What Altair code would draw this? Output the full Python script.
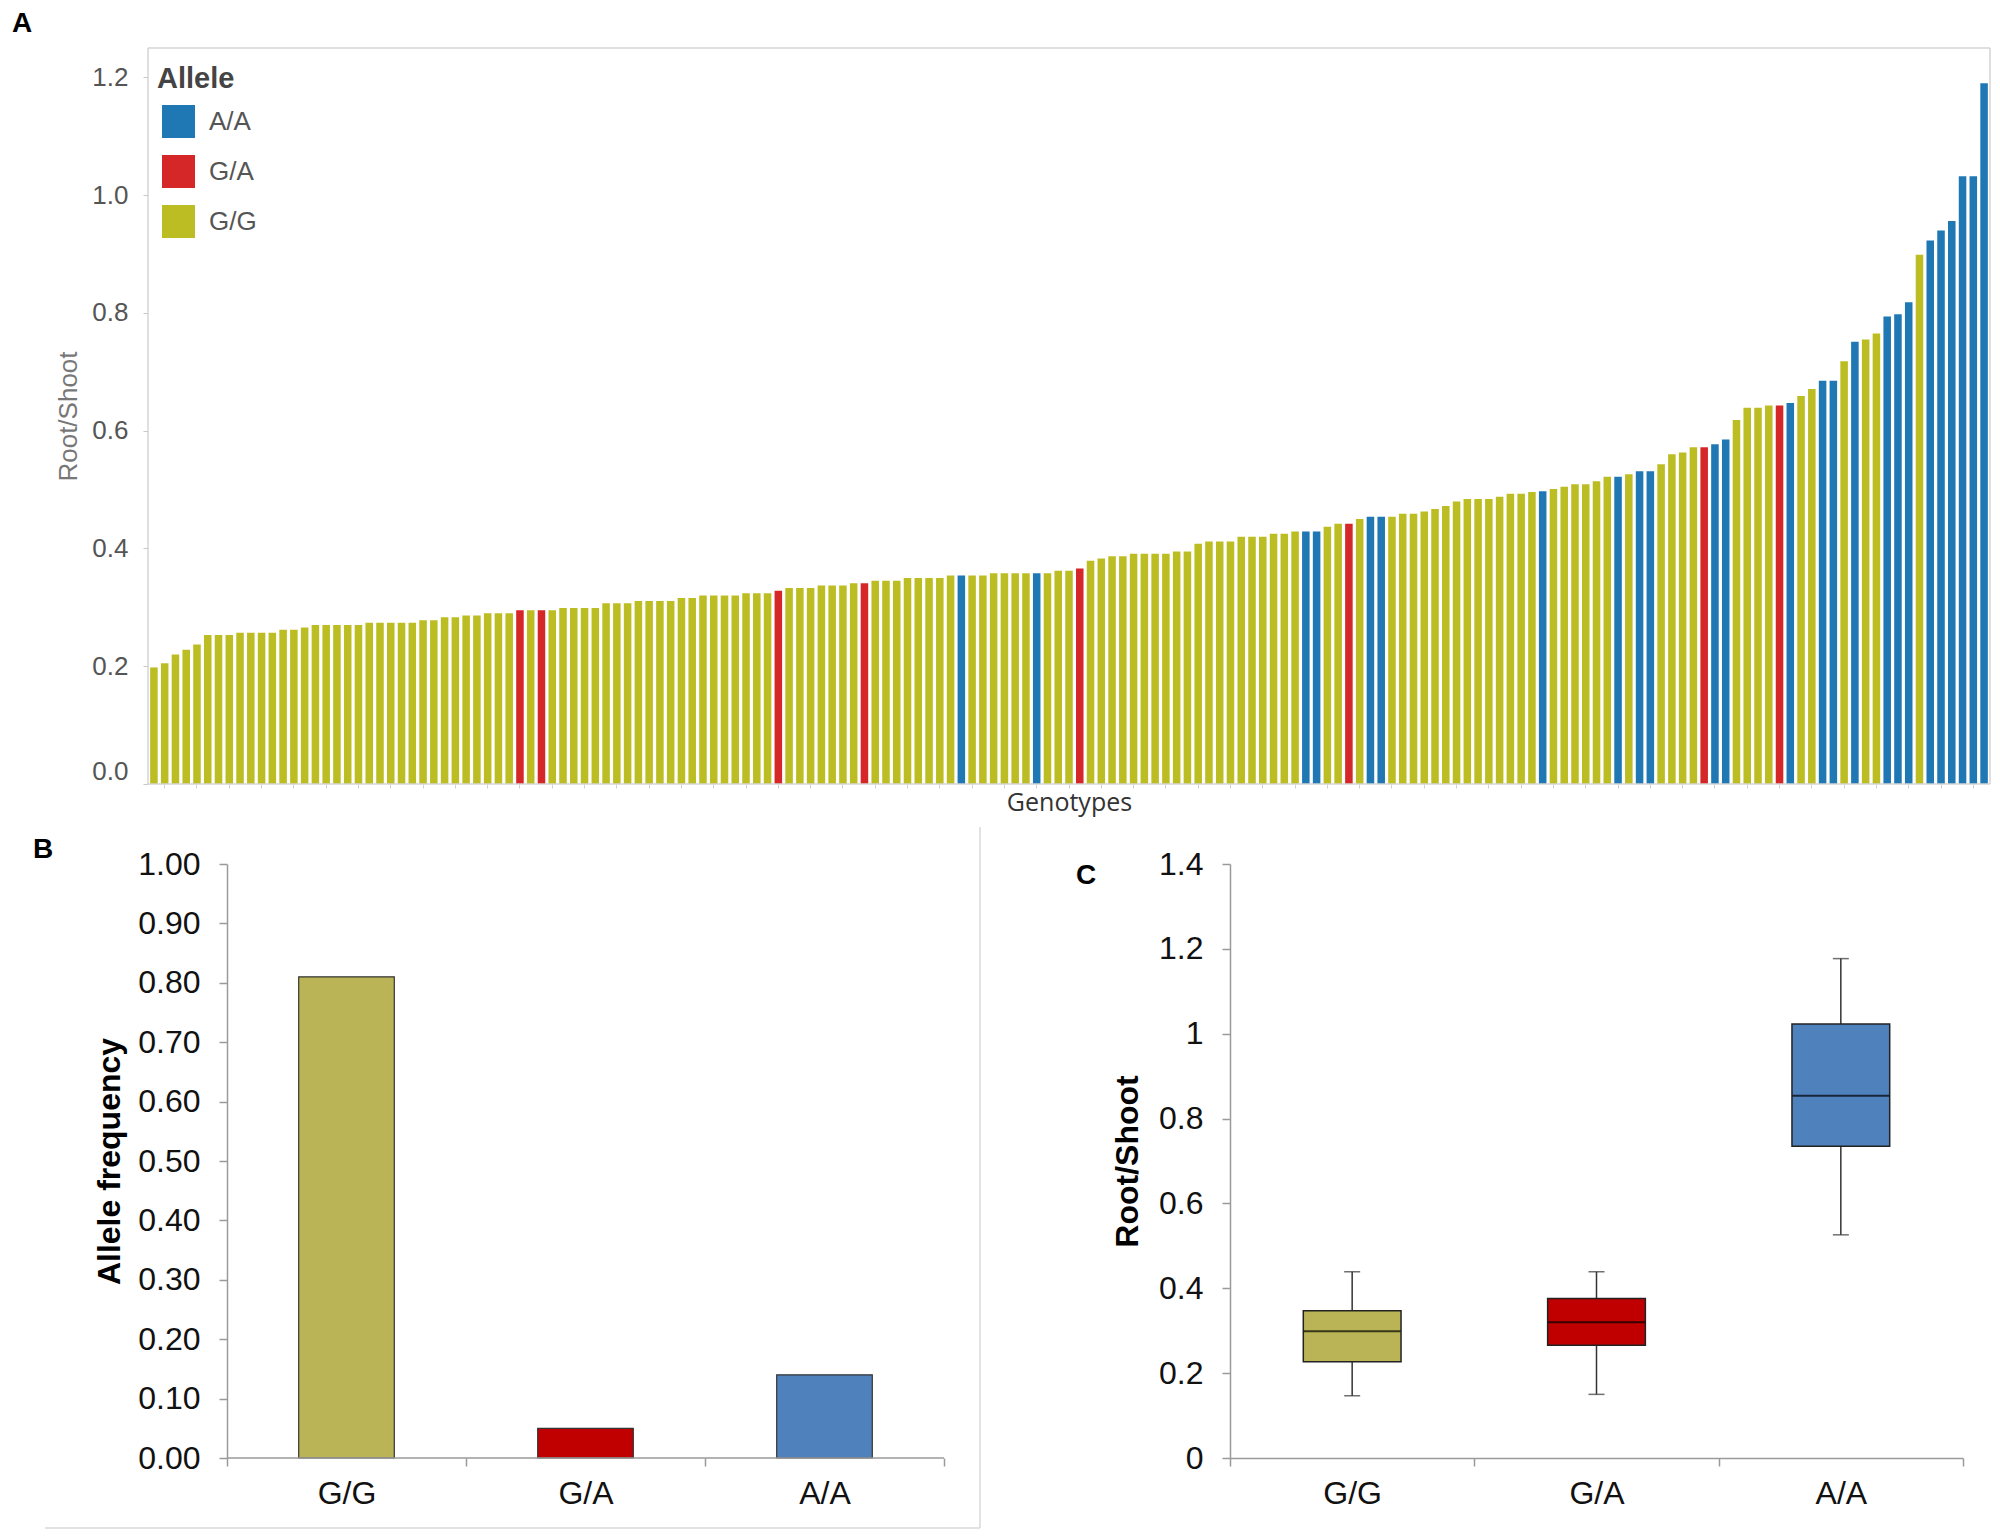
import altair as alt
import pandas as pd

FONT = "Liberation Sans"

# ---------------- Panel A data ----------------
root_shoot = [
    0.198, 0.205, 0.220, 0.228, 0.237, 0.253, 0.253, 0.253, 0.257, 0.257,
    0.257, 0.257, 0.262, 0.262, 0.266, 0.270, 0.270, 0.270, 0.270, 0.270,
    0.274, 0.274, 0.274, 0.274, 0.274, 0.278, 0.278, 0.283, 0.283, 0.286,
    0.286, 0.290, 0.290, 0.290, 0.295, 0.295, 0.295, 0.295, 0.299, 0.299,
    0.299, 0.299, 0.307, 0.307, 0.307, 0.311, 0.311, 0.311, 0.311, 0.316,
    0.316, 0.320, 0.320, 0.320, 0.320, 0.324, 0.324, 0.324, 0.328, 0.333,
    0.333, 0.333, 0.337, 0.337, 0.337, 0.341, 0.341, 0.345, 0.345, 0.345,
    0.350, 0.350, 0.350, 0.350, 0.354, 0.354, 0.354, 0.354, 0.358, 0.358,
    0.358, 0.358, 0.358, 0.358, 0.362, 0.362, 0.366, 0.379, 0.383, 0.387,
    0.387, 0.391, 0.391, 0.391, 0.391, 0.395, 0.395, 0.408, 0.412, 0.412,
    0.412, 0.420, 0.420, 0.420, 0.425, 0.425, 0.429, 0.429, 0.429, 0.437,
    0.442, 0.442, 0.450, 0.454, 0.454, 0.454, 0.459, 0.459, 0.463, 0.467,
    0.472, 0.480, 0.484, 0.484, 0.484, 0.488, 0.493, 0.493, 0.496, 0.497,
    0.501, 0.505, 0.509, 0.509, 0.514, 0.522, 0.522, 0.526, 0.531, 0.531,
    0.543, 0.560, 0.563, 0.572, 0.572, 0.577, 0.585, 0.618, 0.639, 0.639,
    0.643, 0.643, 0.647, 0.659, 0.671, 0.685, 0.685, 0.718, 0.751, 0.755,
    0.765, 0.794, 0.798, 0.818, 0.899, 0.923, 0.940, 0.956, 1.032, 1.032,
    1.190,
]
# 1-based positions of the bars that are G/A (red) and A/A (blue); the rest are G/G
ga_bars = [35, 37, 59, 67, 87, 112, 145, 152]
aa_bars = [76, 83, 108, 109, 114, 115, 130, 137, 139, 140, 146, 147, 153,
           156, 157, 159, 162, 163, 164, 166, 167, 168, 169, 170, 171]
legend_order = ["A/A", "G/A", "G/G"]
tableau_colors = ["#1f77b4", "#d62728", "#bcbd22"]
a_ticks = [0, 0.2, 0.4, 0.6, 0.8, 1.0, 1.2]

# ---------------- Panel B data ----------------
alleles = ["G/G", "G/A", "A/A"]
freq = [0.81, 0.05, 0.14]
excel_colors = ["#BAB456", "#C00000", "#4F81BD"]
b_ticks = [0, 0.1, 0.2, 0.3, 0.4, 0.5, 0.6, 0.7, 0.8, 0.9, 1.0]

# ---------------- Panel C data ----------------
whisker_lo = [0.147, 0.150, 0.526]
q1 = [0.227, 0.266, 0.735]
median = [0.299, 0.320, 0.854]
q3 = [0.347, 0.376, 1.023]
whisker_hi = [0.439, 0.439, 1.177]
c_ticks = [0, 0.2, 0.4, 0.6, 0.8, 1.0, 1.2, 1.4]

# ---------------- Build tables ----------------
n = len(root_shoot)
ids = [f"g{i + 1:03d}" for i in range(n)]
allele_of = []
for i in range(n):
    k = i + 1
    allele_of.append("A/A" if k in aa_bars else ("G/A" if k in ga_bars else "G/G"))
dfA = pd.DataFrame({"genotype": ids, "value": root_shoot, "allele": allele_of})
dfB = pd.DataFrame({"allele": alleles, "freq": freq, "fill": excel_colors})
dfC = pd.DataFrame({"allele": alleles, "lo": whisker_lo, "q1": q1, "median": median,
                    "q3": q3, "hi": whisker_hi, "fill": excel_colors})
one = pd.DataFrame({"t": ["x"]})


def letter(txt, x, y):
    return alt.Chart(pd.DataFrame({"t": [txt]})).mark_text(
        align="left", baseline="top", font=FONT, fontSize=28, fontWeight="bold", color="#000"
    ).encode(x=alt.value(x), y=alt.value(y), text="t:N")


def vrule(x, y1, y2, color, width=1.5, opacity=1):
    return alt.Chart(one).mark_rule(color=color, strokeWidth=width, opacity=opacity).encode(
        x=alt.value(x), y=alt.value(y1), y2=alt.value(y2))


def hrule(x1, x2, y, color, width=1.5):
    return alt.Chart(one).mark_rule(color=color, strokeWidth=width).encode(
        x=alt.value(x1), x2=alt.value(x2), y=alt.value(y))


# ---------------- Panel A ----------------
WA = 1842
HA = 736
barsA = alt.Chart(dfA).mark_bar().encode(
    x=alt.X("genotype:N", sort=None,
            scale=alt.Scale(paddingInner=0.3, paddingOuter=0.2),
            axis=alt.Axis(title="Genotypes", labels=False, values=ids[1::3],
                          tickSize=4, tickColor="#d0d0d0", domain=False,
                          titleFont="Open Sans", titleFontSize=25, titleColor="#333",
                          titleFontWeight="normal", titlePadding=2)),
    y=alt.Y("value:Q", scale=alt.Scale(domain=[0, 1.25], nice=False),
            axis=alt.Axis(title="Root/Shoot", values=a_ticks, format=".1f", grid=False,
                          domain=False, tickColor="#c8c8c8", tickSize=5,
                          labelFont=FONT, labelFontSize=26, labelColor="#555",
                          labelPadding=15, labelFlush=True,
                          titleFont=FONT, titleFontSize=26, titleColor="#777",
                          titleFontWeight="normal", titlePadding=10)),
    color=alt.Color("allele:N",
                    scale=alt.Scale(domain=legend_order, range=tableau_colors),
                    legend=alt.Legend(title="Allele", orient="none",
                                      legendX=9, legendY=17,
                                      padding=0, titleFont=FONT, titleFontSize=29,
                                      titleFontWeight="bold", titleColor="#444",
                                      titlePadding=11, labelFont=FONT, labelFontSize=26,
                                      labelColor="#555", labelOffset=14,
                                      symbolType="square", symbolSize=1089,
                                      symbolStrokeWidth=0, symbolOffset=5, rowPadding=17)),
)
frame = "#d4d4d4"
panelA = alt.layer(
    barsA,
    vrule(0, 0, HA, frame), vrule(WA, 0, HA, frame),
    hrule(0, WA, 0, frame), hrule(0, WA, HA, frame),
    letter("A", -136, -38),
).properties(width=WA, height=HA)

# ---------------- Panel B ----------------
# Panel B shares its plot origin with panel A (column alignment), so its
# category bands are pushed SHIFT pixels to the right inside a wider view.
SHIFT = 79
WB = 717
HB = 594
axis_grey = "#9a9a9a"
xB = alt.X("allele:N", sort=alleles,
           scale=alt.Scale(paddingInner=0, paddingOuter=SHIFT / (2 * WB / 3), align=1),
           axis=alt.Axis(title=None, labelAngle=0, tickBand="extent", domain=False,
                         tickColor=axis_grey, tickWidth=1.5, tickSize=8,
                         labelFont=FONT, labelFontSize=32, labelColor="#111",
                         labelPadding=12))
barsB = alt.Chart(dfB).mark_bar(stroke="#333", strokeWidth=1.2,
                                width=alt.RelativeBandSize(0.4)).encode(
    x=xB,
    y=alt.Y("freq:Q", scale=alt.Scale(domain=[0, 1], nice=False),
            axis=alt.Axis(title="Allele frequency", values=b_ticks, format=".2f",
                          grid=False, offset=-SHIFT, domainColor=axis_grey, domainWidth=1.5,
                          tickColor=axis_grey, tickWidth=1.5, tickSize=8,
                          labelFont=FONT, labelFontSize=32, labelColor="#111",
                          labelPadding=19, titleFont=FONT, titleFontSize=32,
                          titleFontWeight="bold", titleColor="#000", titlePadding=11)),
    color=alt.Color("fill:N", scale=None),
)
panelB = alt.layer(
    barsB,
    hrule(SHIFT, SHIFT + WB, HB, axis_grey),
    vrule(SHIFT + 753, -37, 664, "#d9d9d9"),
    hrule(SHIFT - 182, SHIFT + 753, 664, "#d9d9d9"),
    letter("B", SHIFT - 194, -28),
).properties(width=SHIFT + WB, height=HB)

# ---------------- Panel C ----------------
xC = alt.X("allele:N", sort=alleles,
           scale=alt.Scale(paddingInner=0, paddingOuter=0),
           axis=alt.Axis(title=None, labelAngle=0, tickBand="extent",
                         domainColor=axis_grey, domainWidth=1.5, tickColor=axis_grey,
                         tickWidth=1.5, tickSize=8, labelFont=FONT, labelFontSize=32,
                         labelColor="#111", labelPadding=12))
axC = alt.Axis(title="Root/Shoot", values=c_ticks, format="~g", grid=False,
               domainColor=axis_grey, domainWidth=1.5, tickColor=axis_grey,
               tickWidth=1.5, tickSize=8, labelFont=FONT, labelFontSize=32,
               labelColor="#111", labelPadding=19, titleFont=FONT, titleFontSize=32,
               titleFontWeight="bold", titleColor="#000", titlePadding=14)
scC = alt.Scale(domain=[0, 1.4], nice=False)
baseC = alt.Chart(dfC)
whisk = baseC.mark_rule(color="#333", strokeWidth=1.5).encode(
    x=xC, y=alt.Y("lo:Q", scale=scC, axis=axC, title="Root/Shoot"), y2="hi:Q")
box = baseC.mark_bar(stroke="#222", strokeWidth=1.5, width=alt.RelativeBandSize(0.4)).encode(
    x=xC, y=alt.Y("q1:Q", scale=scC, axis=axC, title="Root/Shoot"), y2="q3:Q",
    color=alt.Color("fill:N", scale=None))
med = baseC.mark_tick(color="#000", thickness=2, size=97).encode(
    x=xC, y=alt.Y("median:Q", scale=scC, axis=axC, title="Root/Shoot"))
capLo = baseC.mark_tick(color="#333", thickness=1.5, size=16).encode(
    x=xC, y=alt.Y("lo:Q", scale=scC, axis=axC, title="Root/Shoot"))
capHi = baseC.mark_tick(color="#333", thickness=1.5, size=16).encode(
    x=xC, y=alt.Y("hi:Q", scale=scC, axis=axC, title="Root/Shoot"))
panelC = alt.layer(whisk, box, med, capLo, capHi, letter("C", -154, -2),
                   vrule(0, -37, -33, "#ffffff", opacity=0)).properties(width=733, height=HB)

bottom = alt.hconcat(panelB, panelC, spacing=95)
chart = alt.vconcat(panelA, bottom, spacing=10).properties(
    padding={"left": 4, "top": 2, "right": 0, "bottom": 0},
    background="white",
).configure(font=FONT).configure_view(stroke="transparent", strokeWidth=0)

chart.save("out.html", embed_options={"renderer": "svg", "actions": False})
